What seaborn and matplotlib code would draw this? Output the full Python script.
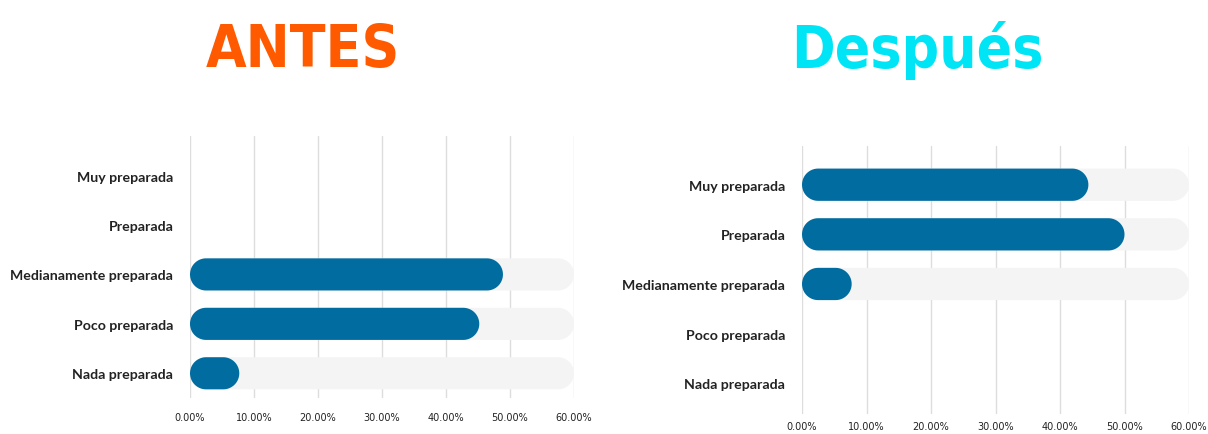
import matplotlib
matplotlib.use("Agg")
import matplotlib.pyplot as plt
import seaborn as sns
import pandas as pd
import numpy as np
from matplotlib.patches import Polygon
from matplotlib.ticker import FuncFormatter

categories = ["Muy preparada", "Preparada", "Medianamente preparada",
              "Poco preparada", "Nada preparada"]
antes = [0, 0, 48.9, 45.2, 7.7]
despues = [44.4, 50.0, 7.7, 0, 0]
xticks = [0, 10, 20, 30, 40, 50, 60]

sns.set_theme(style="white")
plt.rcParams["font.family"] = ["Lato", "DejaVu Sans"]

BLUE = "#016CA0"
TRACK = "#F4F4F4"

fig = plt.figure(figsize=(12.08, 4.35), dpi=100)


def px(x0, y0, x1, y1):
    W, H = 1208, 435
    return [x0 / W, 1 - y1 / H, (x1 - x0) / W, (y1 - y0) / H]


def round_bars(ax):
    # turn seaborn's rectangles into pills with semicircular ends
    fig.canvas.draw()
    bb = ax.get_window_extent()
    xl, yl = ax.get_xlim(), ax.get_ylim()
    xpp = (xl[1] - xl[0]) / bb.width
    ypp = abs(yl[1] - yl[0]) / bb.height
    t = np.linspace(-np.pi / 2, np.pi / 2, 40)
    for p in list(ax.patches):
        x, y, w, h = p.get_x(), p.get_y(), p.get_width(), p.get_height()
        fc, z = p.get_facecolor(), p.get_zorder()
        p.remove()
        if w <= 0:
            continue
        ry = abs(h) / 2
        rx = min(ry / ypp * xpp, w / 2)
        cy = y + h / 2
        right = np.c_[x + w - rx + rx * np.cos(t), cy + ry * np.sin(t)]
        left = np.c_[x + rx - rx * np.cos(t[::-1]), cy + ry * np.sin(t[::-1])]
        ax.add_patch(Polygon(np.vstack([right, left]), closed=True,
                             facecolor=fc, edgecolor="none", zorder=z))


def panel(rect, values, ylim, title, tcolor, tx, xpad):
    ax = fig.add_axes(rect)
    df = pd.DataFrame({"cat": categories, "val": values,
                       "track": [60 if v > 0 else 0 for v in values]})
    sns.barplot(data=df, y="cat", x="track", color=TRACK, width=0.65,
                saturation=1, ax=ax, zorder=2)
    sns.barplot(data=df, y="cat", x="val", color=BLUE, width=0.65,
                saturation=1, ax=ax, zorder=3)
    ax.set_xlim(0, 60)
    ax.set_ylim(*ylim)
    ax.set_xticks(xticks)
    ax.xaxis.set_major_formatter(FuncFormatter(lambda v, _: f"{v:.2f}%"))
    ax.grid(axis="x", color="#DDDDDD", linewidth=1, zorder=0)
    ax.set_axisbelow(True)
    for s in ax.spines.values():
        s.set_visible(False)
    ax.set_xlabel("")
    ax.set_ylabel("")
    ax.tick_params(axis="x", length=0, pad=xpad, labelsize=7, labelcolor="#222222")
    ax.tick_params(axis="y", length=0, pad=12, labelsize=10.2, labelcolor="#222222")
    for lab in ax.get_yticklabels():
        lab.set_fontweight("bold")
    for lab in ax.get_xticklabels():
        lab.set_family(["DejaVu Sans"])
    round_bars(ax)
    fig.text(tx, 1 - 50 / 435, title, color=tcolor, fontsize=42,
             fontweight="bold", fontstretch="condensed", ha="center", va="center",
             family=["DejaVu Sans"])
    return ax


panel(px(190, 137, 574, 399), antes, (4.5, -0.8), "ANTES", "#FF5A00", 303 / 1208, 10)
panel(px(802, 147, 1189, 415), despues, (4.62, -0.78), "Después", "#00E5F5", 917 / 1208, 5)

fig.savefig("out.png", dpi=100)
